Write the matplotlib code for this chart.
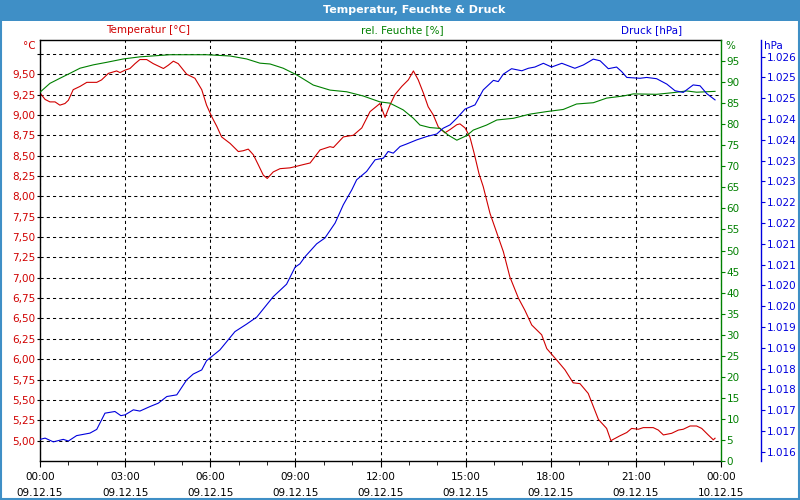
import numpy as np
import matplotlib.pyplot as plt
from matplotlib.patches import Rectangle
from matplotlib.ticker import FixedLocator, FuncFormatter

# readings of 09.12.15, time in hours after midnight
temp_hours = [0.00, 0.18, 0.35, 0.53, 0.70, 0.88, 1.00, 1.17, 1.41, 1.65, 2.00, 2.17,
              2.41, 2.70, 2.82, 3.00, 3.17, 3.35, 3.52, 3.76, 3.99, 4.17, 4.35, 4.52,
              4.70, 4.87, 5.17, 5.46, 5.70, 5.87, 6.05, 6.23, 6.40, 6.70, 6.99, 7.16,
              7.34, 7.52, 7.69, 7.87, 8.01, 8.22, 8.46, 8.81, 9.05, 9.28, 9.52, 9.87,
              10.22, 10.34, 10.69, 11.04, 11.34, 11.63, 11.98, 12.16, 12.33, 12.51,
              12.75, 12.98, 13.16, 13.33, 13.51, 13.68, 13.86, 14.04, 14.27, 14.45,
              14.69, 14.80, 14.98, 15.15, 15.30, 15.47, 15.62, 15.86, 16.04, 16.33,
              16.56, 16.86, 17.09, 17.33, 17.68, 17.86, 18.21, 18.50, 18.79, 19.03,
              19.32, 19.50, 19.68, 19.97, 20.12, 20.44, 20.68, 20.85, 21.09, 21.26,
              21.61, 21.79, 21.97, 22.26, 22.50, 22.67, 22.91, 23.14, 23.32, 23.55,
              23.73, 23.79]
temp_values = [9.27, 9.19, 9.16, 9.16, 9.12, 9.14, 9.18, 9.31, 9.35, 9.40, 9.40, 9.43,
               9.51, 9.54, 9.52, 9.55, 9.57, 9.63, 9.68, 9.68, 9.63, 9.60, 9.57, 9.61,
               9.66, 9.63, 9.50, 9.45, 9.31, 9.12, 8.98, 8.86, 8.73, 8.65, 8.55, 8.56,
               8.58, 8.51, 8.39, 8.26, 8.22, 8.30, 8.34, 8.35, 8.37, 8.39, 8.41, 8.57,
               8.61, 8.60, 8.73, 8.75, 8.84, 9.04, 9.14, 8.97, 9.12, 9.25,
               9.35, 9.43, 9.54, 9.43, 9.27, 9.10, 9.00, 8.85, 8.78, 8.82,
               8.88, 8.89, 8.84, 8.73, 8.53, 8.28, 8.12, 7.79, 7.61, 7.32,
               7.01, 6.75, 6.60, 6.42, 6.30, 6.13, 5.99, 5.87, 5.71, 5.70,
               5.58, 5.42, 5.26, 5.15, 5.00, 5.06, 5.10, 5.15, 5.14, 5.16,
               5.16, 5.13, 5.07, 5.09, 5.13, 5.14, 5.18, 5.18, 5.15, 5.07,
               5.01, 5.03]

hum_hours = [0.00, 0.35, 0.70, 1.06, 1.41, 1.88, 2.35, 2.94, 3.52, 4.58, 5.87, 6.70,
             7.28, 7.75, 8.11, 8.57, 9.05, 9.63, 10.22, 10.81, 11.39, 11.98, 12.33,
             12.80, 13.16, 13.39, 13.74, 14.10, 14.39, 14.69, 15.04, 15.27, 15.74,
             16.10, 16.68, 17.27, 17.86, 18.44, 18.91, 19.50, 19.97, 20.56, 20.91,
             21.73, 22.32, 22.79, 23.14, 23.79]
hum_values = [87.6, 89.7, 90.9, 92.1, 93.3, 94.1, 94.7, 95.5, 96.0, 96.5, 96.5, 96.2,
              95.5, 94.5, 94.3, 93.3, 91.7, 89.3, 88.1, 87.7, 86.7, 85.3, 85.0,
              83.4, 81.4, 79.8, 79.2, 79.0, 77.4, 76.2, 77.3, 78.6, 79.8,
              81.0, 81.4, 82.4, 83.0, 83.5, 84.8, 85.1, 86.2, 86.7, 87.2,
              87.1, 87.5, 87.9, 87.6, 87.8]

pres_hours = [0.00, 0.18, 0.47, 0.82, 1.00, 1.29, 1.76, 2.00, 2.29, 2.64, 2.85, 3.00,
              3.29, 3.52, 3.88, 4.17, 4.47, 4.82, 5.17, 5.40, 5.70, 5.87, 6.34, 6.87,
              7.28, 7.64, 8.22, 8.69, 8.99, 9.16, 9.34, 9.75, 10.04, 10.40, 10.69,
              10.99, 11.16, 11.51, 11.81, 12.10, 12.27, 12.45, 12.69, 12.92, 13.28,
              13.63, 13.98, 14.21, 14.45, 14.69, 14.98, 15.33, 15.62, 15.98, 16.15,
              16.33, 16.62, 16.98, 17.21, 17.44, 17.74, 18.03, 18.39, 18.85, 19.15,
              19.50, 19.74, 20.03, 20.32, 20.50, 20.68, 21.15, 21.38, 21.73, 22.09,
              22.38, 22.67, 23.02, 23.26, 23.50, 23.79]
pres_values = [1016.55, 1016.58, 1016.49, 1016.55, 1016.51, 1016.64, 1016.70, 1016.79,
               1017.18, 1017.22, 1017.12, 1017.14, 1017.26, 1017.23, 1017.34, 1017.42,
               1017.58, 1017.62, 1017.98, 1018.12, 1018.22, 1018.44, 1018.70, 1019.14,
               1019.32, 1019.49, 1019.98, 1020.28, 1020.69, 1020.77, 1020.94, 1021.25,
               1021.39, 1021.75, 1022.19, 1022.55, 1022.79, 1022.99, 1023.27, 1023.31,
               1023.47, 1023.43, 1023.59, 1023.65, 1023.75, 1023.83, 1023.89, 1024.03,
               1024.11, 1024.27, 1024.49, 1024.59, 1024.95, 1025.18, 1025.15, 1025.33,
               1025.46, 1025.41, 1025.47, 1025.50, 1025.59, 1025.50, 1025.59, 1025.47,
               1025.55, 1025.69, 1025.65, 1025.46, 1025.50, 1025.39, 1025.25, 1025.23,
               1025.25, 1025.22, 1025.09, 1024.93, 1024.89, 1025.07, 1025.05, 1024.86,
               1024.71]

tick_hours = [0, 3, 6, 9, 12, 15, 18, 21, 24]
time_labels = ["00:00", "03:00", "06:00", "09:00", "12:00", "15:00", "18:00", "21:00", "00:00"]
date_labels = ["09.12.15"] * 8 + ["10.12.15"]

RED = "#d00000"
GREEN = "#008000"
BLUE = "#0000dd"
FRAME = "#3f8fc6"

plt.rcParams["font.family"] = "DejaVu Sans"
plt.rcParams["font.size"] = 7.5

fig = plt.figure(figsize=(8, 5), dpi=100)
fig.patch.set_facecolor("white")

# title bar and frame
fig.patches.append(Rectangle((0, 1 - 21 / 500), 1, 21 / 500, transform=fig.transFigure,
                             facecolor=FRAME, edgecolor="none", zorder=0))
fig.patches.append(Rectangle((0.001, 0.002), 0.998, 0.996, transform=fig.transFigure,
                             facecolor="none", edgecolor=FRAME, lw=1.5, zorder=0))
fig.text(414 / 800, 1 - 10 / 500, "Temperatur, Feuchte & Druck", color="white",
         weight="bold", ha="center", va="center", fontsize=8)

ax = fig.add_axes([40 / 800, 39 / 500, 681 / 800, 421 / 500])
ax.set_xlim(0, 24)
ax.set_ylim(4.75, 9.92)

# grid
grid_style = dict(color="black", lw=0.75, linestyle=(0, (3, 3)))
temp_ticks = np.arange(5.0, 9.76, 0.25)
ax.set_yticks(temp_ticks)
ax.set_yticklabels([f"{v:.2f}".replace(".", ",") if v < 9.6 else "" for v in temp_ticks])
ax.set_xticks(tick_hours)
ax.set_xticklabels([f"{a}\n{b}" for a, b in zip(time_labels, date_labels)], linespacing=1.7)
ax.xaxis.set_minor_locator(FixedLocator(range(25)))
ax.grid(True, which="major", **grid_style)

ax.tick_params(axis="y", labelcolor=RED, length=2, pad=1.5)
ax.tick_params(axis="x", which="major", length=4, pad=4)
ax.tick_params(axis="x", which="minor", length=3)
for s in ["left", "top", "bottom"]:
    ax.spines[s].set_linewidth(1)
ax.spines["right"].set_visible(False)

ax.plot(temp_hours, temp_values, color=RED, lw=0.8)

hum_ax = ax.twinx()
hum_ax.set_ylim(0, 100)
hum_ax.set_yticks(range(0, 100, 5))
hum_ax.plot(hum_hours, hum_values, color=GREEN, lw=0.8)
hum_ax.tick_params(axis="y", colors=GREEN, length=3, pad=1)
for s in ["left", "top", "bottom"]:
    hum_ax.spines[s].set_visible(False)
hum_ax.spines["right"].set_color(GREEN)
hum_ax.spines["right"].set_linewidth(1)

pres_ax = ax.twinx()
pres_ax.set_ylim(1016.03, 1026.15)
pres_ax.yaxis.set_major_locator(FixedLocator([1016.25 + 0.5 * k for k in range(20)]))
pres_ax.yaxis.set_major_formatter(FuncFormatter(lambda v, p: f"{round(v):,}".replace(",", ".")))
pres_ax.plot(pres_hours, pres_values, color=BLUE, lw=0.8)
pres_ax.tick_params(axis="y", colors=BLUE, length=3, pad=1)
for s in ["left", "top", "bottom"]:
    pres_ax.spines[s].set_visible(False)
pres_ax.spines["right"].set_position(("axes", 721 / 681))
pres_ax.spines["right"].set_color(BLUE)
pres_ax.spines["right"].set_linewidth(1)

# header labels
fig.text(148 / 800, 1 - 30 / 500, "Temperatur [°C]", color=RED, ha="center", va="center")
fig.text(402 / 800, 1 - 30 / 500, "rel. Feuchte [%]", color=GREEN, ha="center", va="center")
fig.text(652 / 800, 1 - 30 / 500, "Druck [hPa]", color=BLUE, ha="center", va="center")
fig.text(36 / 800, 1 - 46 / 500, "°C", color=RED, ha="right", va="center")
fig.text(725 / 800, 1 - 46 / 500, "%", color=GREEN, ha="left", va="center")
fig.text(764 / 800, 1 - 46 / 500, "hPa", color=BLUE, ha="left", va="center")

fig.savefig("out.png", dpi=100)
